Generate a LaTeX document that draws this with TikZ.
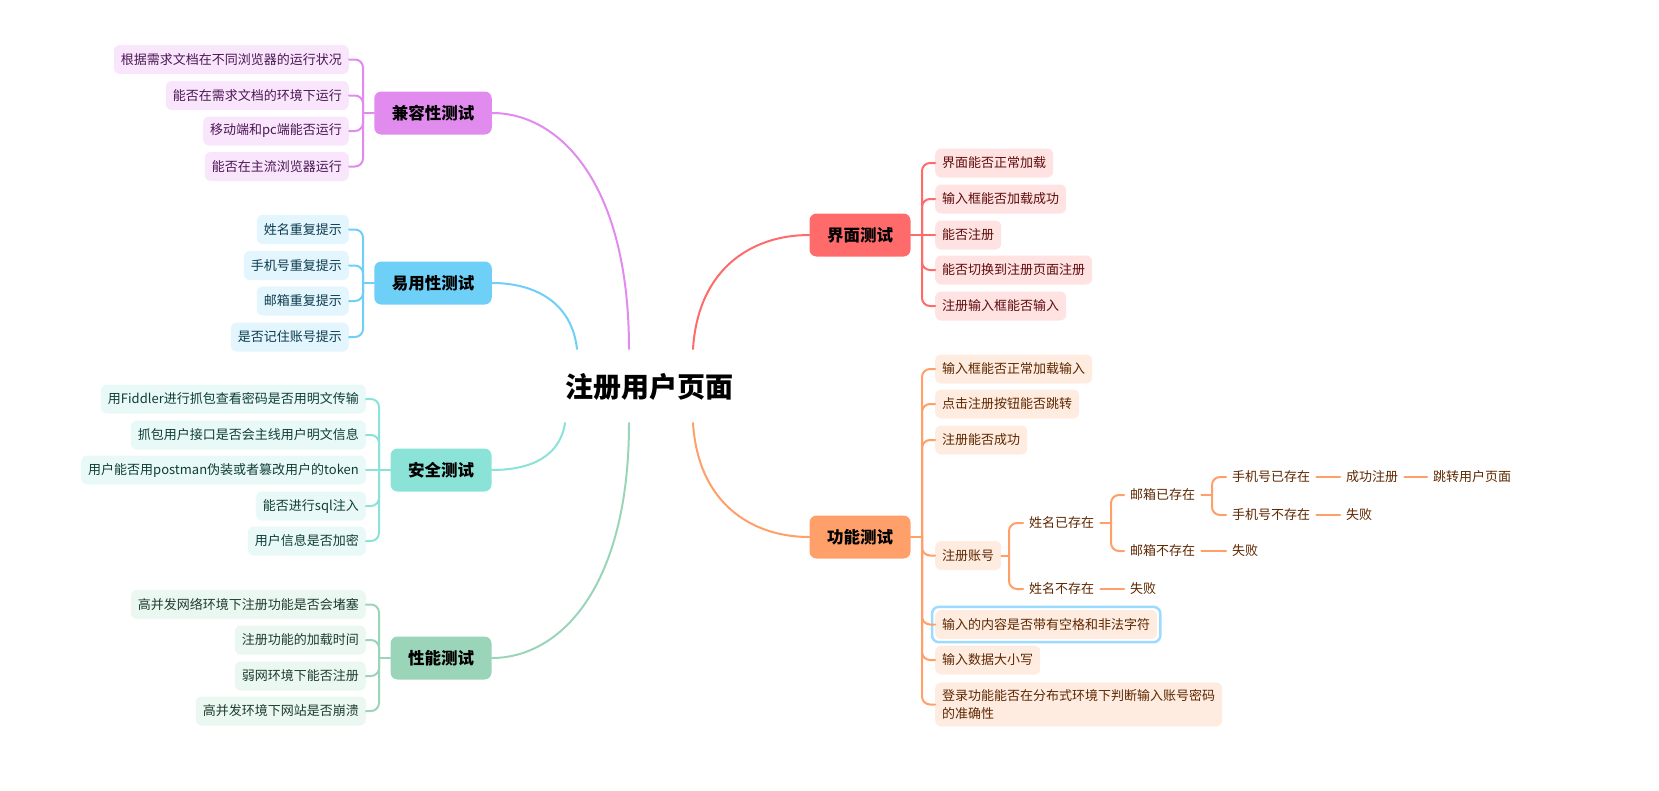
\documentclass[tikz,border=0pt]{standalone}
\usepackage{fontspec}
\setmainfont{Noto Sans CJK SC}
\usepackage{tikz}
\definecolor{jrc}{HTML}{E18BEE}
\definecolor{jrl}{HTML}{F9E6FC}
\definecolor{jrt}{HTML}{4B1654}
\definecolor{yyc}{HTML}{6FD0F7}
\definecolor{yyl}{HTML}{E3F5FD}
\definecolor{yyt}{HTML}{0D3B4F}
\definecolor{aqc}{HTML}{8BE3D7}
\definecolor{aql}{HTML}{E8F9F7}
\definecolor{aqt}{HTML}{0F3D37}
\definecolor{xnc}{HTML}{9AD5B9}
\definecolor{xnl}{HTML}{EBF7F1}
\definecolor{xnt}{HTML}{1D3D2E}
\definecolor{jmc}{HTML}{FF6B6B}
\definecolor{jml}{HTML}{FFE2E2}
\definecolor{jmt}{HTML}{5F0C0C}
\definecolor{gnc}{HTML}{FFA06A}
\definecolor{gnl}{HTML}{FFECE1}
\definecolor{gnt}{HTML}{5E2700}
\definecolor{hilite}{HTML}{9ADBFF}
\newcommand{\leaffont}{\fontsize{13}{18}\selectfont}

\begin{document}
\begin{tikzpicture}[x=1pt,y=-1pt,
  leaf/.style={rounded corners=6pt, inner xsep=7pt, inner ysep=0pt, minimum height=29pt, font=\leaffont},
  jrleaf/.style={leaf, fill=jrl, text=jrt, anchor=east},
  yyleaf/.style={leaf, fill=yyl, text=yyt, anchor=east},
  aqleaf/.style={leaf, fill=aql, text=aqt, anchor=east},
  xnleaf/.style={leaf, fill=xnl, text=xnt, anchor=east},
  jmleaf/.style={leaf, fill=jml, text=jmt, anchor=west},
  gnleaf/.style={leaf, fill=gnl, text=gnt, anchor=west},
  branch/.style={rounded corners=7pt, inner xsep=17.5pt, minimum height=43pt, font=\fontsize{16.5}{20}\selectfont\bfseries},
  word/.style={inner xsep=6pt, inner ysep=2pt, text=gnt, anchor=west, font=\leaffont},
  link/.style={line width=2pt, line cap=round},
  fork/.style={link, rounded corners=8pt}]
\useasboundingbox (0,0) rectangle (1659,790);

\node[font=\fontsize{28}{32}\selectfont\bfseries] (root) at (649,387) {注册用户页面};
\coordinate (r1) at (629,349);
\coordinate (r2) at (577,349);
\coordinate (r3) at (565,423);
\coordinate (r4) at (629,423);
\coordinate (r5) at (693,349);
\coordinate (r6) at (693,423);

\node[branch, fill=jrc] (jr) at (433,113) {兼容性测试};
\node[branch, fill=yyc] (yy) at (433,283) {易用性测试};
\node[branch, fill=aqc] (aq) at (441,470) {安全测试};
\node[branch, fill=xnc] (xn) at (441,658) {性能测试};
\node[branch, fill=jmc] (jm) at (860,235) {界面测试};
\node[branch, fill=gnc] (gn) at (860,537) {功能测试};

\draw[link, jrc] (r1) .. controls +(0,-165) and +(68,0) .. (jr.east);
\draw[link, yyc] (r2) .. controls +(-5,-45) and +(45,0) .. (yy.east);
\draw[link, aqc] (r3) .. controls +(-5,33) and +(40,0) .. (aq.east);
\draw[link, xnc] (r4) .. controls +(0,165) and +(68,0) .. (xn.east);
\draw[link, jmc] (r5) .. controls +(5,-80) and +(-58,0) .. (jm.west);
\draw[link, gnc] (r6) .. controls +(5,80) and +(-58,0) .. (gn.west);

\node[jrleaf] (jr1) at (349,59.5) {根据需求文档在不同浏览器的运行状况};
\node[jrleaf] (jr2) at (349,95.5) {能否在需求文档的环境下运行};
\node[jrleaf] (jr3) at (349,131) {移动端和pc端能否运行};
\node[jrleaf] (jr4) at (349,166.5) {能否在主流浏览器运行};
\coordinate (jrf) at (363,113);
\draw[link, jrc] (jr.west) -- (jrf);
\draw[fork, jrc] (jrf) |- (jr1.east);
\draw[fork, jrc] (jrf) |- (jr2.east);
\draw[fork, jrc] (jrf) |- (jr3.east);
\draw[fork, jrc] (jrf) |- (jr4.east);

\node[yyleaf] (yy1) at (349,229.5) {姓名重复提示};
\node[yyleaf] (yy2) at (349,265.5) {手机号重复提示};
\node[yyleaf] (yy3) at (349,301) {邮箱重复提示};
\node[yyleaf] (yy4) at (349,337) {是否记住账号提示};
\coordinate (yyf) at (363,283);
\draw[link, yyc] (yy.west) -- (yyf);
\draw[fork, yyc] (yyf) |- (yy1.east);
\draw[fork, yyc] (yyf) |- (yy2.east);
\draw[fork, yyc] (yyf) |- (yy3.east);
\draw[fork, yyc] (yyf) |- (yy4.east);

\node[aqleaf] (aq1) at (366,399) {用Fiddler进行抓包查看密码是否用明文传输};
\node[aqleaf] (aq2) at (366,435) {抓包用户接口是否会主线用户明文信息};
\node[aqleaf] (aq3) at (366,470) {用户能否用postman伪装或者篡改用户的token};
\node[aqleaf] (aq4) at (366,506) {能否进行sql注入};
\node[aqleaf] (aq5) at (366,541) {用户信息是否加密};
\coordinate (aqf) at (379,470);
\draw[link, aqc] (aq.west) -- (aq3.east);
\draw[fork, aqc] (aqf) |- (aq1.east);
\draw[fork, aqc] (aqf) |- (aq2.east);
\draw[fork, aqc] (aqf) |- (aq4.east);
\draw[fork, aqc] (aqf) |- (aq5.east);

\node[xnleaf] (xn1) at (366,604.5) {高并发网络环境下注册功能是否会堵塞};
\node[xnleaf] (xn2) at (366,640) {注册功能的加载时间};
\node[xnleaf] (xn3) at (366,676) {弱网环境下能否注册};
\node[xnleaf] (xn4) at (366,711) {高并发环境下网站是否崩溃};
\coordinate (xnf) at (379,658);
\draw[link, xnc] (xn.west) -- (xnf);
\draw[fork, xnc] (xnf) |- (xn1.east);
\draw[fork, xnc] (xnf) |- (xn2.east);
\draw[fork, xnc] (xnf) |- (xn3.east);
\draw[fork, xnc] (xnf) |- (xn4.east);

\node[jmleaf] (jm1) at (935,163) {界面能否正常加载};
\node[jmleaf] (jm2) at (935,199) {输入框能否加载成功};
\node[jmleaf] (jm3) at (935,235) {能否注册};
\node[jmleaf] (jm4) at (935,270) {能否切换到注册页面注册};
\node[jmleaf] (jm5) at (935,306) {注册输入框能否输入};
\coordinate (jmf) at (922,235);
\draw[link, jmc] (jm.east) -- (jm3.west);
\draw[fork, jmc] (jmf) |- (jm1.west);
\draw[fork, jmc] (jmf) |- (jm2.west);
\draw[fork, jmc] (jmf) |- (jm4.west);
\draw[fork, jmc] (jmf) |- (jm5.west);

\node[gnleaf] (gn1) at (935,369) {输入框能否正常加载输入};
\node[gnleaf] (gn2) at (935,404) {点击注册按钮能否跳转};
\node[gnleaf] (gn3) at (935,440) {注册能否成功};
\node[gnleaf] (gn4) at (935,555.5) {注册账号};
\node[gnleaf] (gn5) at (935,624.5) {输入的内容是否带有空格和非法字符};
\node[gnleaf] (gn6) at (935,660) {输入数据大小写};
\node[gnleaf, align=left, inner ysep=7pt] (gn7) at (935,704.5) {登录功能能否在分布式环境下判断输入账号密码\\的准确性};
\draw[hilite, line width=2.5pt, rounded corners=7pt] ([shift={(-3,3)}]gn5.south west) rectangle ([shift={(3,-3)}]gn5.north east);
\coordinate (gnf) at (922,537);
\draw[link, gnc] (gn.east) -- (gnf);
\draw[fork, gnc] (gnf) |- (gn1.west);
\draw[fork, gnc] (gnf) |- (gn2.west);
\draw[fork, gnc] (gnf) |- (gn3.west);
\draw[fork, gnc] (gnf) |- (gn4.west);
\draw[fork, gnc] (gnf) |- (gn5.west);
\draw[fork, gnc] (gnf) |- (gn6.west);
\draw[fork, gnc] (gnf) |- (gn7.west);

\node[word] (xmyc) at (1023,523) {姓名已存在};
\node[word] (xmbc) at (1023,589) {姓名不存在};
\node[word] (yxyc) at (1124,495) {邮箱已存在};
\node[word] (yxbc) at (1124,551) {邮箱不存在};
\node[word] (sjyc) at (1226,477) {手机号已存在};
\node[word] (sjbc) at (1226,515) {手机号不存在};
\node[word] (cgzc) at (1340,477) {成功注册};
\node[word] (tzym) at (1427,477) {跳转用户页面};
\node[word] (sb1) at (1340,515) {失败};
\node[word] (sb2) at (1226,551) {失败};
\node[word] (sb3) at (1124,589) {失败};
\coordinate (gn4f) at (1009,555.5);
\coordinate (xmycf) at (1111,523);
\coordinate (yxycf) at (1212,495);
\draw[link, gnc] (gn4.east) -- (gn4f);
\draw[fork, gnc] (gn4f) |- (xmyc.west);
\draw[fork, gnc] (gn4f) |- (xmbc.west);
\draw[link, gnc] (xmyc.east) -- (xmycf);
\draw[fork, gnc] (xmycf) |- (yxyc.west);
\draw[fork, gnc] (xmycf) |- (yxbc.west);
\draw[link, gnc] (yxyc.east) -- (yxycf);
\draw[fork, gnc] (yxycf) |- (sjyc.west);
\draw[fork, gnc] (yxycf) |- (sjbc.west);
\draw[link, gnc] (sjyc) -- (cgzc);
\draw[link, gnc] (cgzc) -- (tzym);
\draw[link, gnc] (sjbc) -- (sb1);
\draw[link, gnc] (yxbc) -- (sb2);
\draw[link, gnc] (xmbc) -- (sb3);
\end{tikzpicture}
\end{document}
